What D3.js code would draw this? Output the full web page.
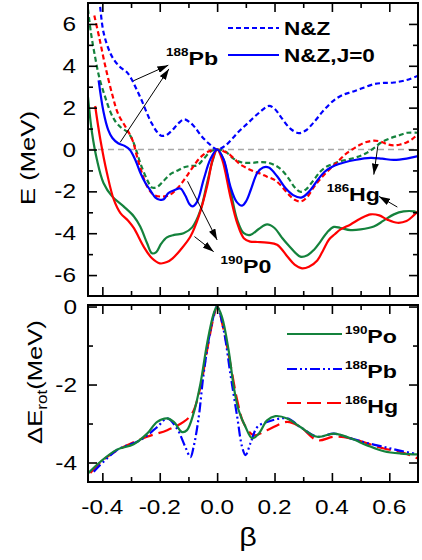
<!DOCTYPE html>
<html><head><meta charset="utf-8">
<script src="https://cdn.jsdelivr.net/npm/d3@7"></script>
<style>body{margin:0;background:#fff}svg{display:block}text{font-family:"Liberation Sans",Arial,sans-serif}</style>
</head><body><svg id="c" width="422" height="560"></svg>
<script>
// ---------- data ----------
const xMajor = [-0.4,-0.2,0,0.2,0.4,0.6];
const xMinor = [-0.3,-0.1,0.1,0.3,0.5];
const xLabels = ["-0.4","-0.2","0.0","0.2","0.4","0.6"];
const topYMajor = [-6,-4,-2,0,2,4,6];
const topYMinor = [-5,-3,-1,1,3,5];
const topYLabels = ["-6","-4","-2","0","2","4","6"];
const botYMajor = [-4,-2,0];
const botYMinor = [-3,-1];
const botYLabels = ["-4","-2","0"];

// top panel: E (MeV) vs beta
const pbNZ = [[-0.41,7.2],[-0.396,5.6],[-0.372,4.6],[-0.355,4.2],[-0.335,3.9],[-0.315,3.7],[-0.298,3.36],[-0.28,2.85],[-0.263,2.35],[-0.245,1.75],[-0.228,1.25],[-0.21,0.85],[-0.195,0.66],[-0.178,0.68],[-0.158,0.9],[-0.135,1.25],[-0.115,1.44],[-0.095,1.3],[-0.077,1.05],[-0.055,0.65],[-0.03,0.3],[0,0],[0.03,0.2],[0.07,0.78],[0.11,1.3],[0.15,1.8],[0.18,2.08],[0.2,1.95],[0.225,1.5],[0.255,1.0],[0.285,0.78],[0.31,0.92],[0.337,1.3],[0.37,1.85],[0.407,2.35],[0.44,2.62],[0.47,2.75],[0.5,2.9],[0.546,3.12],[0.58,3.18],[0.616,3.2],[0.66,3.32],[0.7,3.52]];
const pbJ0 = [[-0.413,3.3],[-0.396,1.8],[-0.38,0.95],[-0.365,0.55],[-0.345,0.3],[-0.322,0.17],[-0.305,0.0],[-0.285,-0.5],[-0.268,-1.1],[-0.25,-1.6],[-0.233,-1.95],[-0.215,-2.3],[-0.2,-2.4],[-0.186,-2.38],[-0.17,-2.08],[-0.15,-1.95],[-0.128,-1.86],[-0.111,-2.2],[-0.097,-2.6],[-0.086,-2.72],[-0.07,-2.5],[-0.047,-1.44],[-0.024,-0.48],[0,0],[0.023,-0.48],[0.046,-1.76],[0.068,-2.5],[0.087,-2.68],[0.102,-2.45],[0.118,-1.9],[0.14,-1.12],[0.16,-0.86],[0.18,-0.86],[0.209,-1.28],[0.238,-1.84],[0.265,-2.18],[0.293,-2.3],[0.318,-2.05],[0.343,-1.6],[0.365,-1.2],[0.384,-0.96],[0.41,-0.76],[0.442,-0.62],[0.48,-0.5],[0.535,-0.4],[0.575,-0.44],[0.615,-0.5],[0.66,-0.44],[0.7,-0.32]];
const hgNZ = [[-0.428,6.4],[-0.41,5.3],[-0.39,4.0],[-0.365,2.6],[-0.345,1.7],[-0.32,1.1],[-0.295,0.45],[-0.28,-0.3],[-0.265,-1.0],[-0.244,-1.76],[-0.221,-2.16],[-0.19,-2.25],[-0.163,-2.15],[-0.135,-1.8],[-0.11,-1.35],[-0.09,-0.95],[-0.06,-0.4],[-0.03,-0.1],[0,0],[0.035,-0.16],[0.06,-0.45],[0.081,-0.72],[0.105,-0.9],[0.128,-1.04],[0.15,-1.15],[0.174,-1.3],[0.2,-1.45],[0.221,-1.7],[0.25,-2.16],[0.27,-2.4],[0.292,-2.48],[0.312,-2.3],[0.337,-1.8],[0.36,-1.4],[0.384,-1.05],[0.407,-0.75],[0.43,-0.45],[0.453,-0.16],[0.48,0.08],[0.5,0.24],[0.52,0.36],[0.545,0.42],[0.57,0.38],[0.595,0.24],[0.616,0.2],[0.638,0.24],[0.66,0.34],[0.68,0.5],[0.7,0.75]];
const hgJ0 = [[-0.425,2.08],[-0.407,0.48],[-0.384,-1.12],[-0.36,-2.4],[-0.337,-3.04],[-0.31,-3.4],[-0.29,-3.76],[-0.256,-4.64],[-0.227,-5.2],[-0.2,-5.44],[-0.175,-5.38],[-0.155,-5.2],[-0.128,-4.8],[-0.093,-4.16],[-0.064,-3.2],[-0.035,-1.76],[-0.015,-0.45],[0,0],[0.018,-0.5],[0.046,-2.24],[0.07,-3.52],[0.093,-4.24],[0.115,-4.4],[0.14,-4.42],[0.174,-4.45],[0.209,-4.55],[0.244,-5.1],[0.27,-5.5],[0.296,-5.68],[0.32,-5.6],[0.349,-5.3],[0.37,-4.8],[0.39,-4.3],[0.41,-4.05],[0.43,-3.82],[0.465,-3.58],[0.5,-3.3],[0.535,-3.1],[0.565,-3.15],[0.593,-3.35],[0.628,-3.5],[0.66,-3.42],[0.685,-3.15],[0.7,-2.95]];
const poNZ = [[-0.45,6.7],[-0.44,5.6],[-0.425,4.4],[-0.41,3.4],[-0.39,2.5],[-0.372,1.8],[-0.355,1.35],[-0.335,1.05],[-0.314,0.85],[-0.3,0.6],[-0.285,0.1],[-0.268,-0.64],[-0.244,-1.44],[-0.227,-1.82],[-0.21,-1.8],[-0.19,-1.55],[-0.165,-1.2],[-0.14,-1.02],[-0.115,-0.85],[-0.09,-0.78],[-0.07,-0.76],[-0.047,-0.45],[-0.023,-0.1],[0,0],[0.029,-0.1],[0.058,-0.45],[0.087,-0.62],[0.12,-0.64],[0.15,-0.6],[0.174,-0.62],[0.2,-0.74],[0.225,-0.98],[0.25,-1.4],[0.27,-1.8],[0.29,-2.02],[0.31,-1.9],[0.337,-1.45],[0.36,-1.05],[0.384,-0.8],[0.407,-0.68],[0.43,-0.56],[0.465,-0.45],[0.5,-0.3],[0.523,-0.15],[0.55,0.1],[0.57,0.32],[0.6,0.52],[0.63,0.66],[0.663,0.8],[0.7,0.8]];
const poJ0 = [[-0.45,2.5],[-0.436,0.8],[-0.419,-0.48],[-0.396,-1.6],[-0.366,-2.24],[-0.326,-2.72],[-0.29,-3.2],[-0.268,-3.68],[-0.244,-4.48],[-0.227,-4.96],[-0.212,-4.9],[-0.195,-4.5],[-0.175,-4.2],[-0.15,-4.08],[-0.117,-4.0],[-0.087,-3.72],[-0.058,-2.9],[-0.035,-1.6],[-0.015,-0.5],[0,0],[0.02,-0.4],[0.046,-1.92],[0.07,-3.36],[0.093,-4.0],[0.116,-4.08],[0.145,-3.8],[0.174,-3.58],[0.2,-3.75],[0.225,-4.2],[0.25,-4.6],[0.29,-5.12],[0.315,-5.05],[0.337,-4.8],[0.36,-4.4],[0.384,-3.95],[0.407,-3.7],[0.43,-3.75],[0.465,-3.85],[0.5,-3.82],[0.546,-3.68],[0.58,-3.4],[0.616,-3.1],[0.65,-2.96],[0.686,-2.96],[0.7,-3.04]];

// bottom panel: Delta E_rot (MeV) vs beta
const rotPo = [[-0.45,-4.28],[-0.407,-3.98],[-0.349,-3.67],[-0.291,-3.53],[-0.244,-3.26],[-0.209,-2.96],[-0.174,-2.87],[-0.151,-2.96],[-0.122,-3.22],[-0.105,-3.17],[-0.082,-2.74],[-0.058,-1.97],[-0.035,-0.95],[-0.012,-0.18],[0,0],[0.017,-0.27],[0.04,-1.12],[0.058,-2.06],[0.075,-2.66],[0.099,-3.09],[0.122,-3.38],[0.145,-3.26],[0.174,-2.92],[0.203,-2.81],[0.244,-2.87],[0.29,-3.09],[0.349,-3.34],[0.407,-3.26],[0.465,-3.38],[0.523,-3.56],[0.581,-3.71],[0.64,-3.77],[0.7,-3.79]];
const rotPb = [[-0.43,-4.24],[-0.349,-3.68],[-0.268,-3.43],[-0.209,-3.09],[-0.174,-2.87],[-0.14,-3.13],[-0.111,-3.6],[-0.093,-3.86],[-0.082,-3.6],[-0.064,-2.83],[-0.047,-1.72],[-0.023,-0.61],[0,0],[0.023,-0.61],[0.046,-1.72],[0.07,-2.83],[0.087,-3.6],[0.099,-3.81],[0.116,-3.51],[0.14,-3.09],[0.174,-2.96],[0.244,-2.87],[0.29,-3.09],[0.349,-3.34],[0.407,-3.26],[0.465,-3.38],[0.523,-3.5],[0.581,-3.6],[0.64,-3.7],[0.7,-3.79]];
const rotHg = [[-0.442,-4.27],[-0.384,-3.86],[-0.314,-3.56],[-0.244,-3.34],[-0.174,-3.17],[-0.117,-2.96],[-0.087,-2.74],[-0.058,-2.06],[-0.035,-1.12],[-0.012,-0.27],[0,0],[0.023,-0.61],[0.046,-1.46],[0.07,-2.4],[0.093,-3.0],[0.128,-3.3],[0.174,-3.17],[0.244,-2.96],[0.29,-3.09],[0.349,-3.43],[0.407,-3.34],[0.465,-3.38],[0.523,-3.51],[0.581,-3.64],[0.64,-3.73],[0.7,-3.9]];

// annotations (data coordinates)
const arrows = [
  {from:[-0.292,3.28], to:[-0.17,4.03]},
  {from:[-0.338,0.34], to:[-0.168,3.85]},
  {from:[-0.103,-1.52], to:[0.0,-4.32]},
  {from:[-0.079,-4.16], to:[-0.012,-4.88]},
  {from:[0.56,0.16], to:[0.546,-1.2]},
  {from:[0.628,-2.75], to:[0.564,-2.24]}
];
const notes = [
  {sup:"188", main:"Pb", at:[-0.178,4.03]},
  {sup:"190", main:"P0", at:[0.012,-5.9]},
  {sup:"186", main:"Hg", at:[0.382,-2.48]}
];

// ---------- chart ----------
const BLUE="#0000ff", RED="#ff0000", GREEN="#14823c";
const SX = 1.22;
const svg = d3.select("#c");
svg.append("rect").attr("width",422).attr("height",560).attr("fill","#fff");

const L=88, R=418;
const x = d3.scaleLinear([-0.45,0.7],[L,R]);
const yT = d3.scaleLinear([-7,7],[296,3]);
const yB = d3.scaleLinear([-4.5,0.04],[482,305]);

const defs = svg.append("defs");
defs.append("clipPath").attr("id","clipT").append("rect").attr("x",L).attr("y",3).attr("width",R-L).attr("height",293);
defs.append("clipPath").attr("id","clipB").append("rect").attr("x",L).attr("y",305).attr("width",R-L).attr("height",177);
defs.append("marker").attr("id","ah").attr("viewBox","0 0 10 10").attr("refX",10).attr("refY",5)
  .attr("markerWidth",11).attr("markerHeight",7).attr("markerUnits","userSpaceOnUse")
  .attr("preserveAspectRatio","none").attr("orient","auto")
  .append("path").attr("d","M0,0L10,5L0,10z").attr("fill","#000");

function stext(parent, px, py, rot, anchor){
  return parent.append("text").attr("text-anchor",anchor)
    .attr("transform",`translate(${px},${py}) rotate(${rot}) scale(${SX},1)`);
}

// zero line
svg.append("line").attr("x1",x(-0.45)).attr("x2",x(0.7)).attr("y1",yT(0)).attr("y2",yT(0))
  .attr("stroke","#a8a8a8").attr("stroke-width",1.6).attr("stroke-dasharray","6,4");

function curve(y){ return d3.line().x(d=>x(d[0])).y(d=>y(d[1])).curve(d3.curveCatmullRom.alpha(0.5)); }
const gT = svg.append("g").attr("clip-path","url(#clipT)");
const lineT = curve(yT);
const topSeries = [
  [poNZ, GREEN, "5,3"],[hgNZ, RED, "5,3"],[pbNZ, BLUE, "5,3"],
  [poJ0, GREEN, null],[hgJ0, RED, null],[pbJ0, BLUE, null]
];
topSeries.forEach(([d,c,dash])=>{
  gT.append("path").attr("d",lineT(d)).attr("fill","none").attr("stroke",c)
    .attr("stroke-width",2.2).attr("stroke-dasharray",dash);
});

const gB = svg.append("g").attr("clip-path","url(#clipB)");
const lineB = curve(yB);
const botSeries = [[rotHg, RED, "14,6"],[rotPb, BLUE, "10,3,2,3,2,3"],[rotPo, GREEN, null]];
botSeries.forEach(([d,c,dash])=>{
  gB.append("path").attr("d",lineB(d)).attr("fill","none").attr("stroke",c)
    .attr("stroke-width",2.2).attr("stroke-dasharray",dash);
});

// frames
[[3,296],[305,482]].forEach(([t,b])=>{
  svg.append("rect").attr("x",L).attr("y",t).attr("width",R-L).attr("height",b-t)
    .attr("fill","none").attr("stroke","#000").attr("stroke-width",2);
});

// ticks
function ticks(tr, axisFn, scale, vals, size){
  const g = svg.append("g").attr("transform",tr);
  g.call(axisFn(scale).tickValues(vals).tickSize(size).tickFormat(""));
  g.select(".domain").remove();
  g.selectAll("line").attr("stroke","#000").attr("stroke-width",1.6);
}
[[296,3],[482,305]].forEach(([b,t])=>{
  ticks(`translate(0,${b})`, d3.axisBottom, x, xMajor, -9);
  ticks(`translate(0,${b})`, d3.axisBottom, x, xMinor, -5);
  ticks(`translate(0,${t})`, d3.axisTop, x, xMajor, -9);
  ticks(`translate(0,${t})`, d3.axisTop, x, xMinor, -5);
});
ticks(`translate(${L},0)`, d3.axisLeft, yT, topYMajor, -9);
ticks(`translate(${L},0)`, d3.axisLeft, yT, topYMinor, -5);
ticks(`translate(${R},0)`, d3.axisRight, yT, topYMajor, -9);
ticks(`translate(${R},0)`, d3.axisRight, yT, topYMinor, -5);
ticks(`translate(${L},0)`, d3.axisLeft, yB, botYMajor, -9);
ticks(`translate(${L},0)`, d3.axisLeft, yB, botYMinor, -5);
ticks(`translate(${R},0)`, d3.axisRight, yB, botYMajor, -9);
ticks(`translate(${R},0)`, d3.axisRight, yB, botYMinor, -5);

// tick labels
xMajor.forEach((v,i)=> stext(svg, x(v), 514, 0, "middle").attr("font-size",20).text(xLabels[i]));
topYMajor.forEach((v,i)=> stext(svg, 76, yT(v)+7, 0, "end").attr("font-size",20).text(topYLabels[i]));
botYMajor.forEach((v,i)=> stext(svg, 77, yB(v)+7, 0, "end").attr("font-size",20).text(botYLabels[i]));

// axis titles
stext(svg, 35, 158, -90, "middle").attr("font-size",21).text("E (MeV)");
const t2 = stext(svg, 42, 382, -90, "middle").attr("font-size",21);
t2.append("tspan").text("ΔE");
t2.append("tspan").attr("font-size",14).attr("dy",5).text("rot");
t2.append("tspan").attr("dy",-5).text("(MeV)");
stext(svg, 248, 546, 0, "middle").attr("font-size",25).text("β");

// arrows
arrows.forEach(a=>{
  svg.append("line").attr("x1",x(a.from[0])).attr("y1",yT(a.from[1]))
    .attr("x2",x(a.to[0])).attr("y2",yT(a.to[1]))
    .attr("stroke","#000").attr("stroke-width",1).attr("marker-end","url(#ah)");
});
// isotope notes
notes.forEach(n=>{
  const t = stext(svg, x(n.at[0]), yT(n.at[1]), 0, "start").attr("font-weight","bold");
  t.append("tspan").attr("font-size",11).attr("dy",-9).text(n.sup);
  t.append("tspan").attr("font-size",19).attr("dy",9).text(n.main);
});

// top legend
const legT = [["N&Z","5,3",28,35],["N&Z,J=0",null,55,62]];
legT.forEach(([lab,dash,ly,ty])=>{
  svg.append("line").attr("x1",228).attr("x2",279).attr("y1",ly).attr("y2",ly)
    .attr("stroke",BLUE).attr("stroke-width",2.2).attr("stroke-dasharray",dash);
  stext(svg, 284, ty, 0, "start").attr("font-size",18.5).attr("font-weight","bold").text(lab);
});
// bottom legend
const legB = [["190","Po",GREEN,null,334,343],["188","Pb",BLUE,"10,3,2,3,2,3",369,378],["186","Hg",RED,"14,6",403,413]];
legB.forEach(([sup,main,c,dash,ly,ty])=>{
  svg.append("line").attr("x1",287).attr("x2",342).attr("y1",ly).attr("y2",ly)
    .attr("stroke",c).attr("stroke-width",2.2).attr("stroke-dasharray",dash);
  const t = stext(svg, 345, ty, 0, "start").attr("font-weight","bold");
  t.append("tspan").attr("font-size",11).attr("dy",-9).text(sup);
  t.append("tspan").attr("font-size",19).attr("dy",9).text(main);
});
</script></body></html>
